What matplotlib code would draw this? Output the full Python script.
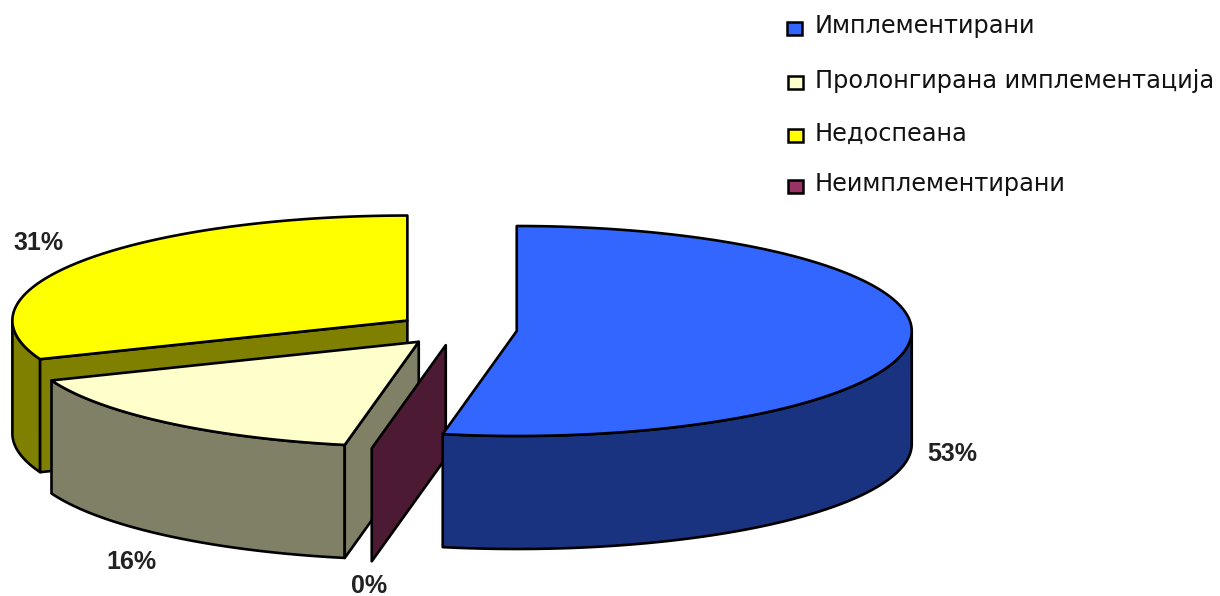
import numpy as np
import matplotlib
matplotlib.use("Agg")
import matplotlib.pyplot as plt
from matplotlib.patches import Polygon, Rectangle

categories = ["Имплементирани", "Пролонгирана имплементација", "Недоспеана", "Неимплементирани"]
values = [53, 16, 31, 0]
percent_labels = ["53%", "16%", "31%", "0%"]
top_colors = ["#3366FF", "#FFFFCC", "#FFFF00", "#993366"]
side_colors = ["#1A3380", "#808066", "#808000", "#4D1A33"]
# Clockwise order of the slices around the pie, starting at twelve o'clock
clockwise_order = [0, 3, 1, 2]
# Back-to-front painting order
paint_order = [2, 1, 3, 0]

# Projection of the tilted pie, in figure pixels
W, H = 1220, 596
CX, CY = 457.0, 329.5
RX, RY = 395.0, 105.0
DEPTH = 113.0
EXPLODE = 60.0
TILT = RY / RX
EDGE = "#000000"
LW = 1.9

plt.rcParams["font.family"] = ["Liberation Sans", "DejaVu Sans"]
fig = plt.figure(figsize=(W / 100, H / 100), dpi=100)
ax = fig.add_axes([0, 0, 1, 1])
ax.set_xlim(0, W)
ax.set_ylim(H, 0)
ax.axis("off")


def rim(cx, cy, angles):
    """Points on the ellipse; angles run clockwise from twelve o'clock."""
    return np.column_stack([cx + RX * np.sin(angles), cy - RY * np.cos(angles)])


def draw_slice(start, end, top, side, z):
    mid = (start + end) / 2
    cx = CX + EXPLODE * np.sin(mid)
    cy = CY - EXPLODE * TILT * np.cos(mid)
    centre = np.array([cx, cy])
    drop = np.array([0, DEPTH])
    kw = dict(edgecolor=EDGE, linewidth=LW, joinstyle="round", zorder=z)

    # Outer wall: only the part of the arc that faces the viewer
    lo, hi = max(start, np.pi / 2), min(end, 3 * np.pi / 2)
    if hi > lo:
        arc = rim(cx, cy, np.linspace(lo, hi, 120))
        ax.add_patch(Polygon(np.vstack([arc, arc[::-1] + drop]), facecolor=side, **kw))

    # Cut face along the leading radius, visible on the left half of the pie
    if np.pi < start < 2 * np.pi:
        p = rim(cx, cy, np.array([start]))[0]
        ax.add_patch(Polygon([centre, p, p + drop, centre + drop], facecolor=side, **kw))

    if end > start:
        arc = rim(cx, cy, np.linspace(start, end, 240))
        ax.add_patch(Polygon(np.vstack([centre, arc]), facecolor=top, **kw))


# Slice extents from the values
total = sum(values)
angle = 0.0
extents = {}
for i in clockwise_order:
    sweep = 2 * np.pi * values[i] / total
    extents[i] = (angle, angle + sweep)
    angle += sweep

for z, i in enumerate(paint_order, start=2):
    draw_slice(*extents[i], top_colors[i], side_colors[i], z)

# Percentage labels
label_xy = [(952, 454), (131, 562), (39, 243), (369, 586)]
for text, (x, y) in zip(percent_labels, label_xy):
    ax.text(x, y, text, ha="center", va="center", fontsize=18, fontweight="bold",
            color="#222222", zorder=10)

# Legend
legend_x = [787, 788, 788, 788]
legend_y = [22, 76, 129, 180]
text_y = [26, 81, 134, 184]
for name, color, lx, ly, ty in zip(categories, top_colors, legend_x, legend_y, text_y):
    ax.add_patch(Rectangle((lx, ly), 15, 13, facecolor=color, edgecolor=EDGE,
                           linewidth=1.8, zorder=10))
    ax.text(815, ty, name, ha="left", va="center", fontsize=17.3, color="#111111",
            family="DejaVu Sans", zorder=10)

fig.savefig("out.png", dpi=100, facecolor="white")
